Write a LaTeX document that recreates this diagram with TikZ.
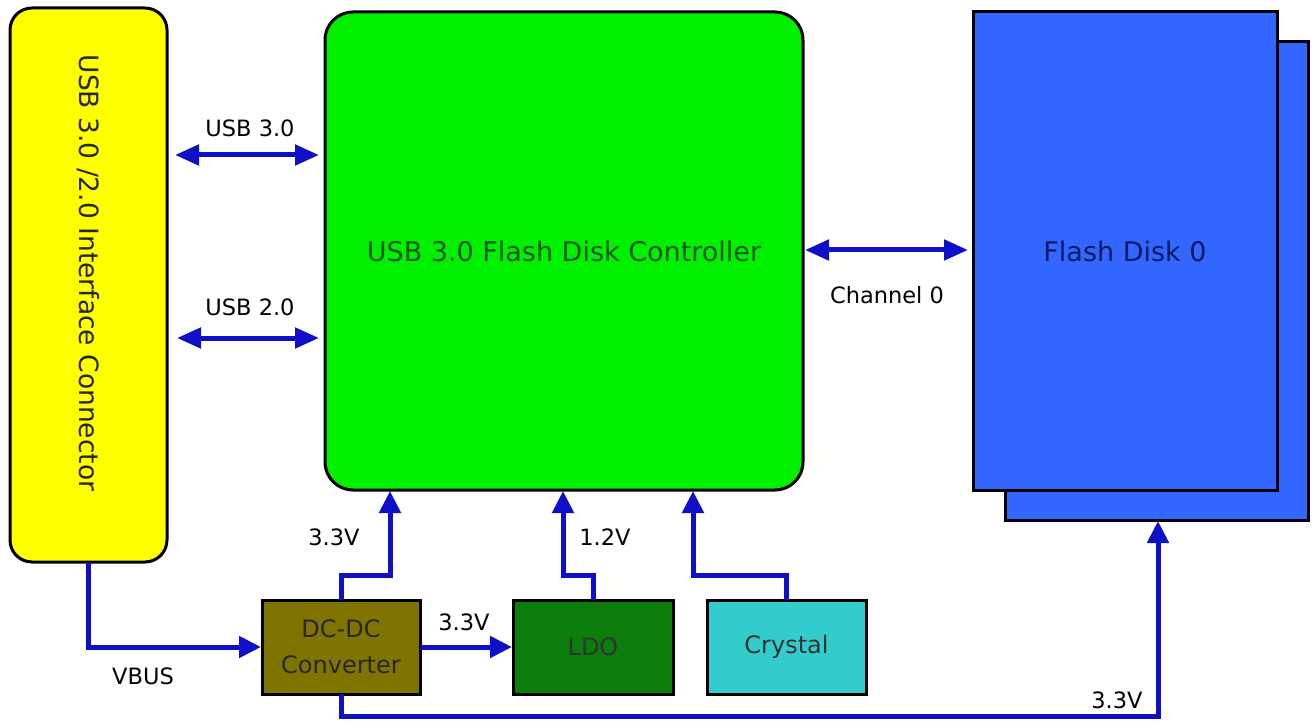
\documentclass[tikz,border=0pt]{standalone}
\usepackage{fontspec}
\setmainfont{DejaVu Sans}
\usetikzlibrary{arrows.meta}
\definecolor{yel}{RGB}{255,255,0}
\definecolor{grn}{RGB}{0,240,0}
\definecolor{fblue}{RGB}{51,102,255}
\definecolor{olivebox}{RGB}{128,116,0}
\definecolor{ldobox}{RGB}{10,125,10}
\definecolor{crybox}{RGB}{51,204,204}
\definecolor{wirec}{RGB}{15,15,200}
\definecolor{ctltext}{RGB}{20,85,20}
\definecolor{fdtext}{RGB}{10,25,100}
\begin{document}
\begin{tikzpicture}[x=1pt,y=-1pt,
  blk/.style={draw=black, line width=3pt, inner sep=0pt, outer sep=0pt},
  wire/.style={draw=wirec, line width=5pt},
  tipA/.style={-{Triangle[length=22pt,width=21pt]}},
  tipB/.style={{Triangle[length=24pt,width=20pt]}-{Triangle[length=24pt,width=20pt]}},
  lbl/.style={font=\fontsize{22.5}{24}\selectfont, text=black},
  big/.style={font=\fontsize{27}{33}\selectfont, align=center},
  small/.style={font=\fontsize{24}{36}\selectfont, align=center}]
\useasboundingbox (0,0) rectangle (1312,722);
% boxes
\node[blk, fill=yel, rounded corners=22pt, minimum width=157pt, minimum height=554pt] (yel) at (88.5,285) {};
\node[big, font=\fontsize{26.5}{30}\selectfont, rotate=-90, text=black!85] (yeltxt) at (88.5,273) {USB 3.0 /2.0 Interface Connector};
\node[blk, fill=grn, rounded corners=28pt, minimum width=478pt, minimum height=478pt, big, text=ctltext] (ctl) at (564,251) {USB 3.0 Flash Disk Controller};
\node[blk, fill=fblue, minimum width=303pt, minimum height=478pt] (fdb) at (1156.5,281) {};
\node[blk, fill=fblue, minimum width=304pt, minimum height=478pt, big, text=fdtext] (fd) at (1125,251) {Flash Disk 0};
\node[blk, fill=olivebox, minimum width=158pt, minimum height=94pt, small, text=black!85] (dc) at (341,647) {DC-DC\\Converter};
\node[blk, fill=ldobox, minimum width=160pt, minimum height=94pt, small, text=black!80] (ldo) at (593,647) {LDO};
\node[blk, fill=crybox, minimum width=159pt, minimum height=94pt, small, text=black!80] (cry) at (786.5,647) {Crystal};
% bidirectional links
\draw[wire, tipB, shorten <=8pt, shorten >=6pt] (yel.east |- 0,155) -- (ctl.west |- 0,155);
\draw[wire, tipB, shorten <=10pt, shorten >=6pt] (yel.east |- 0,338) -- (ctl.west |- 0,338);
\draw[wire, tipB, shorten <=2pt, shorten >=5pt] (ctl.east |- 0,250) -- (fd.west |- 0,250);
\node[lbl] (l1) at (250,128) {USB 3.0};
\node[lbl] (l2) at (250,307) {USB 2.0};
\node[lbl] (l3) at (887,295) {Channel 0};
% power
\draw[wire, tipA, shorten >=1pt] (dc.north) -- (341,575) -| (ctl.south -| 390,0);
\draw[wire, tipA, shorten >=1pt] (ldo.north) -- (593,575) -| (ctl.south -| 563,0);
\draw[wire, tipA, shorten >=1pt] (cry.north) -- (786.5,575) -| (ctl.south -| 693,0);
\draw[wire, tipA, shorten >=1pt] (dc.east) -- (ldo.west);
\draw[wire, tipA, shorten >=1pt] (yel.south) |- (dc.west);
\draw[wire, tipA, shorten >=1pt] (dc.south) -- (341,716) -| (fdb.south -| 1158,0);
\node[lbl] (v1) at (334,537) {3.3V};
\node[lbl] (v2) at (605,537) {1.2V};
\node[lbl] (v3) at (464,622) {3.3V};
\node[lbl] (v4) at (143,676) {VBUS};
\node[lbl] (v5) at (1117,700) {3.3V};
\end{tikzpicture}
\end{document}
